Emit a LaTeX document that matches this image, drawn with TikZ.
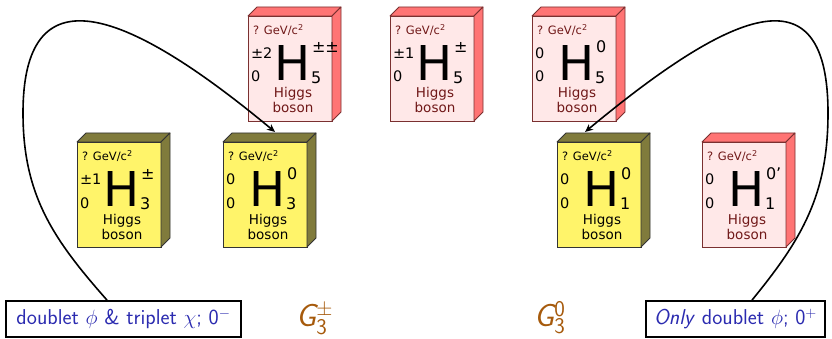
\documentclass[tikz,border=0pt]{standalone}
\usepackage{fontspec}
\usetikzlibrary{arrows.meta}
\newfontfamily\dejavu{DejaVu Sans}
\definecolor{yfront}{HTML}{FFF46A}
\definecolor{yside}{HTML}{807B3C}
\definecolor{yline}{HTML}{333333}
\definecolor{pfront}{HTML}{FFE8E8}
\definecolor{pside}{HTML}{FF7474}
\definecolor{pline}{HTML}{7A3030}
\definecolor{ptext}{HTML}{701818}
\definecolor{lblblue}{HTML}{2B2BB0}
\definecolor{gbrown}{HTML}{A65A0C}
\tikzset{
  yfrontbox/.style={fill=yfront, draw=yline, line width=0.8},
  ysidebox/.style={fill=yside, draw=yline, line width=0.8, line join=round},
  pfrontbox/.style={fill=pfront, draw=pline, line width=0.8},
  psidebox/.style={fill=pside, draw=pline, line width=0.8, line join=round},
  ytxt/.style={text=black},
  ptxt/.style={text=ptext},
  boxtext/.style={inner sep=0, outer sep=0, font=\dejavu},
  lblbox/.style={draw=black, line width=1.8, fill=white, text=lblblue,
    font=\sffamily\fontsize{21.5}{24}\selectfont, minimum height=36, inner sep=0},
  glabel/.style={text=gbrown, inner sep=0, anchor=base west,
    font=\sffamily\fontsize{32}{38}\selectfont},
  curvearrow/.style={draw=black, line width=1.6, -{Stealth[length=8pt,width=7pt]}},
}
% #1 name, #2 position, #3 y/p, #4 charge, #5 spin, #6 sup, #7 sub
\newcommand\higgsbox[7]{%
  \node[#3frontbox, anchor=north west, minimum width=84, minimum height=105,
        inner sep=0, outer sep=0] (#1) at (#2) {};
  \filldraw[#3sidebox] (#1.north west) -- ++(9,-9) -- ++(84,0) -- (#1.north east) -- cycle;
  \filldraw[#3sidebox] (#1.north east) -- ++(9,-9) -- ++(0,105) -- (#1.south east) -- cycle;
  \node[boxtext, #3txt, anchor=base west, font=\dejavu\fontsize{11.5}{13}\selectfont]
     (#1-mass) at ([shift={(5,19)}]#1.north west) {? GeV/c\textsuperscript{2}};
  \node[boxtext, anchor=base west, font=\dejavu\fontsize{14.5}{16}\selectfont]
     (#1-charge) at ([shift={(3,43)}]#1.north west) {#4};
  \node[boxtext, anchor=base west, font=\dejavu\fontsize{14.5}{16}\selectfont]
     (#1-spin) at ([shift={(3,66)}]#1.north west) {#5};
  \node[boxtext, anchor=base, font=\dejavu\fontsize{48}{50}\selectfont]
     (#1-sym) at ([shift={(44.5,65)}]#1.north west) {H};
  \node[boxtext, anchor=base west, font=\dejavu\fontsize{16}{18}\selectfont]
     (#1-sup) at ([shift={(64,37)}]#1.north west) {#6};
  \node[boxtext, anchor=base west, font=\dejavu\fontsize{16}{18}\selectfont]
     (#1-sub) at ([shift={(63,68)}]#1.north west) {#7};
  \node[boxtext, #3txt, anchor=base, font=\dejavu\fontsize{13.5}{15}\selectfont]
     (#1-l1) at ([shift={(45,82)}]#1.north west) {Higgs};
  \node[boxtext, #3txt, anchor=base, font=\dejavu\fontsize{13.5}{15}\selectfont]
     (#1-l2) at ([shift={(45,97)}]#1.north west) {boson};
}
\begin{document}
\begin{tikzpicture}[x=1pt, y=-1pt]
\useasboundingbox (0,0) rectangle (832,339);
% top row (pink)
\higgsbox{h5pp}{248,16}{p}{±2}{0}{±±}{5}
\higgsbox{h5p}{390,16}{p}{±1}{0}{±}{5}
\higgsbox{h5z}{532,16}{p}{0}{0}{0}{5}
% bottom row
\higgsbox{h3p}{77,142}{y}{±1}{0}{±}{3}
\higgsbox{h3z}{223,142}{y}{0}{0}{0}{3}
\higgsbox{h1z}{557,142}{y}{0}{0}{0}{1}
\higgsbox{h1zp}{702,142}{p}{0}{0}{0’}{1}
% labels
\node[lblbox, minimum width=235] (lblL) at (123.5,319) {doublet $\phi$ \& triplet $\chi$; 0$^{-}$};
\node[lblbox, minimum width=179] (lblR) at (735.5,319) {\textit{Only} doublet $\phi$; 0$^{+}$};
\node[glabel] (gpm) at (296,326) {{\slshape G}$^{\pm}_{\mathsf{3}}$};
\node[glabel] (gz) at (534,326) {{\slshape G}$^{\mathsf{0}}_{\mathsf{3}}$};
% arrows
\coordinate (h3zin) at ([shift={(52,-10)}]h3z.north west);
\coordinate (h1zin) at ([shift={(28,-10)}]h1z.north west);
\draw[curvearrow] ([xshift=-16.5pt]lblL.north) .. controls (53,239) and (23,195) .. (23,113)
   .. controls (23,-27) and (121,4) .. (h3zin);
\draw[curvearrow] ([xshift=16.5pt]lblR.north) .. controls (802,239) and (828,195) .. (828,113)
   .. controls (828,-27) and (739,4) .. (h1zin);
\end{tikzpicture}
\end{document}
